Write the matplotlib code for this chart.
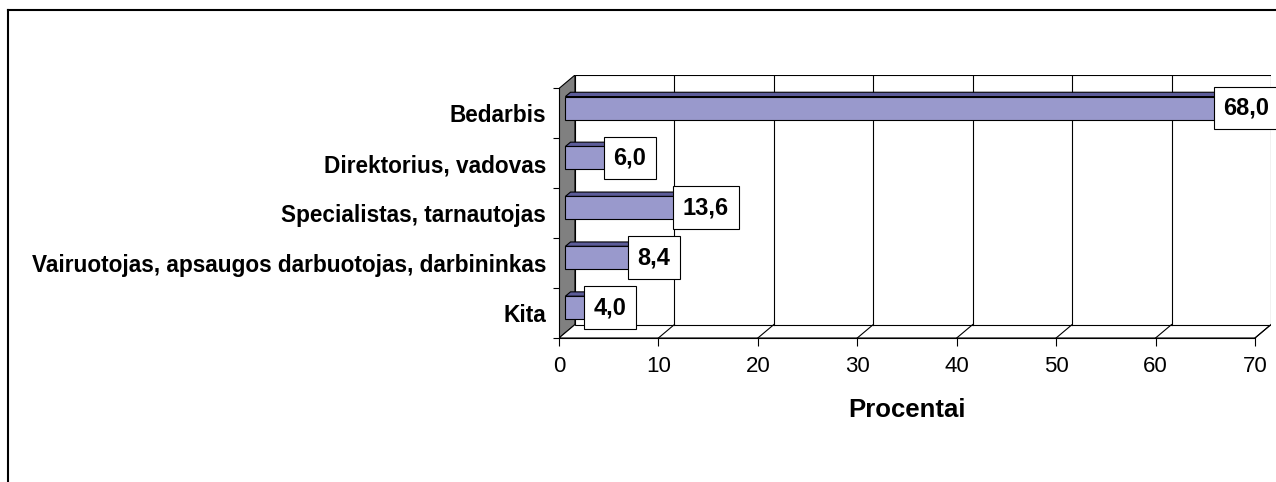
import matplotlib.pyplot as plt
from matplotlib.patches import Polygon, Rectangle
from matplotlib.lines import Line2D
from matplotlib.ticker import FixedLocator

plt.rcParams['font.family'] = ['Liberation Sans', 'DejaVu Sans']

# === data (top to bottom as in the chart) ===
categories = ["Bedarbis", "Direktorius, vadovas", "Specialistas, tarnautojas",
              "Vairuotojas, apsaugos darbuotojas, darbininkas", "Kita"]
values = [68.0, 6.0, 13.6, 8.4, 4.0]
labels = ["68,0", "6,0", "13,6", "8,4", "4,0"]
xticks = [0, 10, 20, 30, 40, 50, 60, 70]

# 3D look: depth offset of the back wall, in data units
DX, DY = 1.61, 0.27
F1, F2 = 0.40, 0.72   # bar front/back depth fractions
BAR_H = 0.46
XMAX = 70
N = len(categories)

fig = plt.figure(figsize=(12.76, 4.82), dpi=100)
ax = fig.add_axes([559 / 1276, 144 / 482, (1271 - 559) / 1276, (338 - 75) / 482])
ax.set_xlim(0, XMAX + DX)
ax.set_ylim(0, N + DY)

# walls and floor
ax.add_patch(Polygon([(0, 0), (0, N), (DX, N + DY), (DX, DY)], closed=True,
                     facecolor='#808080', edgecolor='black', lw=0.8, zorder=1))
ax.add_patch(Polygon([(0, 0), (XMAX, 0), (XMAX + DX, DY), (DX, DY)], closed=True,
                     facecolor='white', edgecolor='black', lw=0.8, zorder=1))
ax.add_patch(Rectangle((DX, DY), XMAX, N, facecolor='white', edgecolor='black',
                       lw=0.8, zorder=1))
for k in xticks[1:]:
    if k < XMAX:
        ax.plot([k + DX, k + DX], [DY, N + DY], color='black', lw=0.8, zorder=2)
    ax.plot([k, k + DX], [0, DY], color='black', lw=0.8, zorder=2)

# bars
for i, (v, lab) in enumerate(zip(values, labels)):
    yc = N - i - 0.5
    yb, yt = yc - BAR_H / 2, yc + BAR_H / 2
    x0 = 0
    front = [(x0 + F1 * DX, yb + F1 * DY), (v + F1 * DX, yb + F1 * DY),
             (v + F1 * DX, yt + F1 * DY), (x0 + F1 * DX, yt + F1 * DY)]
    top = [(x0 + F1 * DX, yt + F1 * DY), (v + F1 * DX, yt + F1 * DY),
           (v + F2 * DX, yt + F2 * DY), (x0 + F2 * DX, yt + F2 * DY)]
    end = [(v + F1 * DX, yb + F1 * DY), (v + F2 * DX, yb + F2 * DY),
           (v + F2 * DX, yt + F2 * DY), (v + F1 * DX, yt + F1 * DY)]
    for poly, col in [(front, '#9999cc'), (top, '#5c5c99'), (end, '#5c5c99')]:
        ax.add_patch(Polygon(poly, closed=True, facecolor=col, edgecolor='black',
                             lw=0.8, zorder=3))
    ax.text(v + F1 * DX + 0.5, yc + F1 * DY, lab, ha='center', va='center',
            fontsize=17, fontweight='bold', zorder=5,
            bbox=dict(boxstyle='square,pad=0.42', facecolor='white',
                      edgecolor='black', lw=0.8))

# axes
for s in ['top', 'right']:
    ax.spines[s].set_visible(False)
ax.spines['bottom'].set_bounds(0, XMAX)
ax.spines['left'].set_bounds(0, N)
ax.spines['bottom'].set_linewidth(0.8)
ax.spines['left'].set_linewidth(0.8)
ax.set_xticks(xticks)
ax.set_xticklabels([str(t) for t in xticks], fontsize=16)
ax.tick_params(axis='x', direction='out', length=5.8, width=0.8, pad=7)
ax.yaxis.set_major_locator(FixedLocator(range(N + 1)))
ax.set_yticklabels([])
ax.tick_params(axis='y', which='major', direction='out', length=4.3, width=0.8)
ax.yaxis.set_minor_locator(FixedLocator([N - i - 0.5 for i in range(N)]))
ax.yaxis.set_ticklabels(categories, minor=True, fontsize=16.3, fontweight='bold')
ax.tick_params(axis='y', which='minor', length=0, pad=9.4)
ax.set_xlabel("Procentai", fontsize=18.5, fontweight='bold', labelpad=15)
ax.xaxis.label.set_x((XMAX / 2) / (XMAX + DX))

# chart frame (only top and left edges visible)
fig.add_artist(Line2D([8 / 1276, 1], [1 - 10 / 482, 1 - 10 / 482],
                      transform=fig.transFigure, color='black', lw=1.5))
fig.add_artist(Line2D([8 / 1276, 8 / 1276], [0, 1 - 10 / 482],
                      transform=fig.transFigure, color='black', lw=1.5))

fig.savefig("out.png", dpi=100)
